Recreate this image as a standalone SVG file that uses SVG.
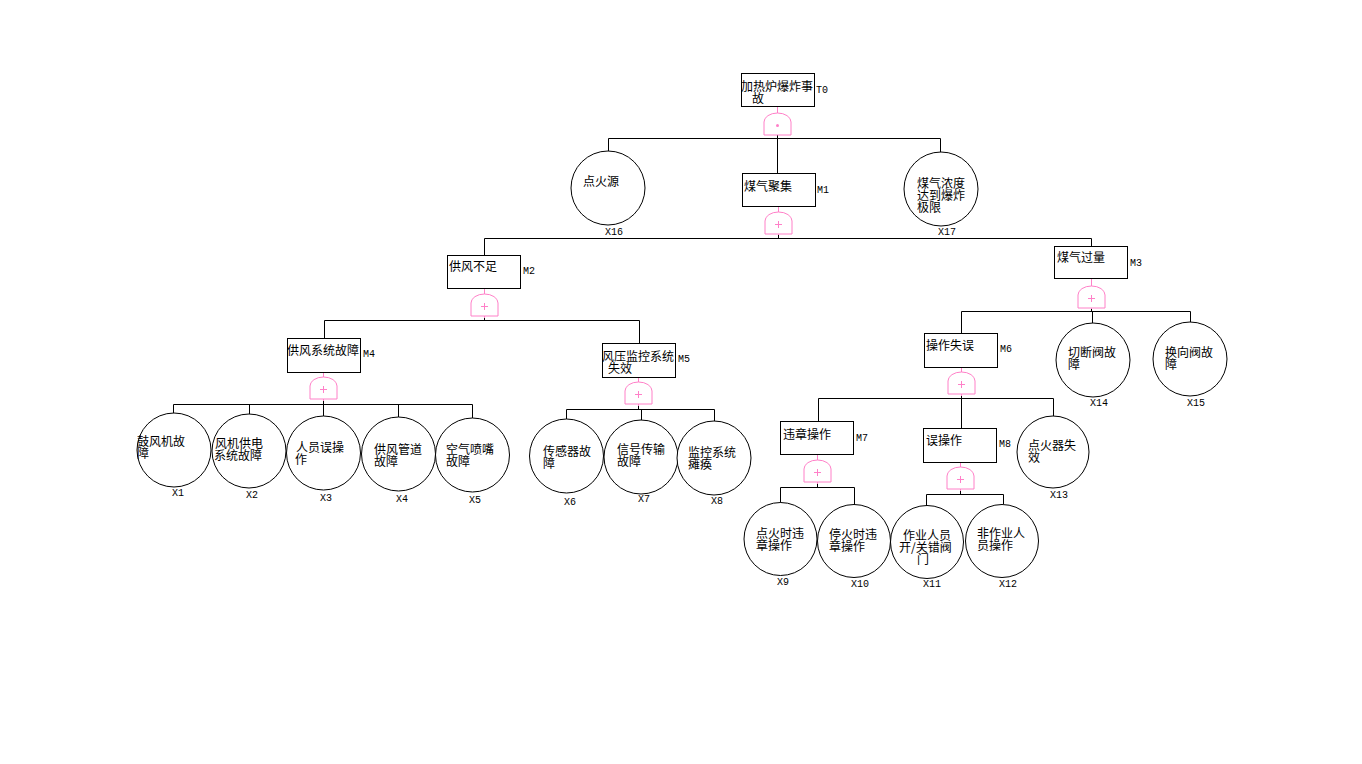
<svg xmlns="http://www.w3.org/2000/svg" width="1362" height="764" viewBox="0 0 1362 764">
<style>
.bg{fill:#fff}
.box{fill:#fff;stroke:#000;stroke-width:1}
.ev{fill:#fff;stroke:#000;stroke-width:1}
.gate{fill:#fff;stroke:#ff80c8;stroke-width:1}
.gs{stroke:#ff80c8;stroke-width:1;fill:none}
.ln{stroke:#000;stroke-width:1;fill:none}
.t{font-family:"Noto Sans CJK SC","Noto Sans CJK JP",sans-serif;font-size:12px;fill:#000}
.id{font-family:"Liberation Mono","DejaVu Sans Mono",monospace;font-size:10px;fill:#000}
</style>
<defs>
<g id="orgate">
<path class="gate" d="M-13.5,22 V9 A13.5,9 0 0 1 13.5,9 V22 Z"/>
<path class="gs" d="M-3.5,12.5 H3.5 M0,9 V16"/>
</g>
<g id="andgate">
<path class="gate" d="M-13.5,22 V9 A13.5,9 0 0 1 13.5,9 V22 Z"/>
<circle cx="0" cy="12.5" r="1.5" fill="#ff80c8"/>
</g>
</defs>
<rect class="bg" x="0" y="0" width="1362" height="764"/>

<g id="connectors">
<path class="ln" d="M608.5,138.5 H940.5 M608.5,138.5 V151 M940.5,138.5 V152 M777.5,135 V173"/>
<path class="ln" d="M484.5,238.5 H1091.5 M484.5,238.5 V255 M1091.5,238.5 V246 M778.5,235 V238"/>
<path class="ln" d="M324.5,320.5 H639.5 M324.5,320.5 V338 M639.5,320.5 V343 M484.5,318 V320"/>
<path class="ln" d="M173.5,404.5 H472.5 M173.5,404.5 V413 M249.5,404.5 V414 M323.5,404.5 V416 M398.5,404.5 V417 M472.5,404.5 V418 M323.5,401 V404"/>
<path class="ln" d="M566.5,409.5 H714.5 M566.5,409.5 V420 M641.5,409.5 V420 M714.5,409.5 V421 M638.5,406 V409"/>
<path class="ln" d="M961.5,311.5 H1190.5 M961.5,311.5 V333 M1092.5,311.5 V323 M1190.5,311.5 V322 M1091.5,309 V311"/>
<path class="ln" d="M818.5,398.5 H1053.5 M818.5,398.5 V421 M961.5,398.5 V428 M1053.5,398.5 V416 M961.5,396 V398"/>
<path class="ln" d="M780.5,487.5 H854.5 M780.5,487.5 V503 M854.5,487.5 V505 M817.5,484 V487"/>
<path class="ln" d="M926.5,494.5 H1003.5 M926.5,494.5 V506 M1003.5,494.5 V504 M960.5,491 V494"/>
<path class="gs" d="M777.5,107 V113 M777.5,133 V135 M778.5,207 V212 M778.5,233 V235 M484.5,289 V294 M484.5,316 V318 M323.5,373 V377 M323.5,399 V401 M638.5,378 V382 M638.5,404 V406 M1091.5,279 V286 M1091.5,307 V309 M961.5,368 V372 M961.5,394 V396 M817.5,455 V460 M817.5,482 V484 M960.5,463 V467 M960.5,489 V491"/>
</g>

<g id="T0">
<rect class="box" x="741.5" y="73.5" width="73" height="33"/>
<text class="t"><tspan x="741" y="91">加热炉爆炸事</tspan><tspan x="752" y="103">故</tspan></text>
<text class="id" x="816" y="93">T0</text>
<use href="#andgate" x="777.5" y="113"/>
</g>

<g id="M1">
<rect class="box" x="742.5" y="173.5" width="73" height="33"/>
<text class="t" x="744" y="191">煤气聚集</text>
<text class="id" x="817" y="193">M1</text>
<use href="#orgate" x="778.5" y="212"/>
</g>

<g id="X16">
<circle class="ev" cx="608" cy="188" r="37"/>
<text class="t" x="583" y="186">点火源</text>
<text class="id" x="605" y="235">X16</text>
</g>

<g id="X17">
<circle class="ev" cx="941" cy="189" r="37"/>
<text class="t"><tspan x="917" y="188">煤气浓度</tspan><tspan x="917" y="200">达到爆炸</tspan><tspan x="917" y="212">极限</tspan></text>
<text class="id" x="938" y="235">X17</text>
</g>

<g id="M2">
<rect class="box" x="447.5" y="255.5" width="73" height="33"/>
<text class="t" x="449" y="271">供风不足</text>
<text class="id" x="523" y="274">M2</text>
<use href="#orgate" x="484.5" y="294"/>
</g>

<g id="M3">
<rect class="box" x="1054.5" y="246.5" width="73" height="32"/>
<text class="t" x="1057" y="262">煤气过量</text>
<text class="id" x="1130" y="266">M3</text>
<use href="#orgate" x="1091.5" y="286"/>
</g>

<g id="M4">
<rect class="box" x="287.5" y="338.5" width="73" height="34"/>
<text class="t" x="287" y="355">供风系统故障</text>
<text class="id" x="363" y="357">M4</text>
<use href="#orgate" x="323.5" y="377"/>
</g>

<g id="M5">
<rect class="box" x="602.5" y="343.5" width="73" height="34"/>
<text class="t"><tspan x="602" y="361">风压监控系统</tspan><tspan x="608" y="373">失效</tspan></text>
<text class="id" x="678" y="362">M5</text>
<use href="#orgate" x="638.5" y="382"/>
</g>

<g id="M6">
<rect class="box" x="924.5" y="333.5" width="73" height="34"/>
<text class="t" x="926" y="350">操作失误</text>
<text class="id" x="1000" y="352">M6</text>
<use href="#orgate" x="961.5" y="372"/>
</g>

<g id="M7">
<rect class="box" x="780.5" y="421.5" width="73" height="33"/>
<text class="t" x="783" y="439">违章操作</text>
<text class="id" x="856" y="441">M7</text>
<use href="#orgate" x="817.5" y="460"/>
</g>

<g id="M8">
<rect class="box" x="923.5" y="428.5" width="73" height="34"/>
<text class="t" x="926" y="445">误操作</text>
<text class="id" x="999" y="447">M8</text>
<use href="#orgate" x="960.5" y="467"/>
</g>

<g id="X1">
<circle class="ev" cx="174" cy="450" r="37"/>
<text class="t"><tspan x="137" y="446">鼓风机故</tspan><tspan x="137" y="458">障</tspan></text>
<text class="id" x="172" y="496">X1</text>
</g>
<g id="X2">
<circle class="ev" cx="249" cy="451" r="37"/>
<text class="t"><tspan x="215" y="448">风机供电</tspan><tspan x="214" y="460">系统故障</tspan></text>
<text class="id" x="246" y="498">X2</text>
</g>
<g id="X3">
<circle class="ev" cx="323.5" cy="453" r="37"/>
<text class="t"><tspan x="296" y="452">人员误操</tspan><tspan x="295" y="464">作</tspan></text>
<text class="id" x="320" y="501">X3</text>
</g>
<g id="X4">
<circle class="ev" cx="398.5" cy="454" r="37"/>
<text class="t"><tspan x="374" y="454">供风管道</tspan><tspan x="374" y="466">故障</tspan></text>
<text class="id" x="396" y="502">X4</text>
</g>
<g id="X5">
<circle class="ev" cx="472.5" cy="455" r="37"/>
<text class="t"><tspan x="446" y="454">空气喷嘴</tspan><tspan x="446" y="466">故障</tspan></text>
<text class="id" x="469" y="503">X5</text>
</g>

<g id="X6">
<circle class="ev" cx="566.5" cy="456" r="37"/>
<text class="t"><tspan x="543" y="456">传感器故</tspan><tspan x="543" y="468">障</tspan></text>
<text class="id" x="564" y="505">X6</text>
</g>
<g id="X7">
<circle class="ev" cx="641" cy="457" r="37"/>
<text class="t"><tspan x="617" y="454">信号传输</tspan><tspan x="617" y="466">故障</tspan></text>
<text class="id" x="638" y="502">X7</text>
</g>
<g id="X8">
<circle class="ev" cx="714" cy="458" r="37"/>
<text class="t"><tspan x="688" y="457">监控系统</tspan><tspan x="688" y="469">瘫痪</tspan></text>
<text class="id" x="711" y="504">X8</text>
</g>

<g id="X14">
<circle class="ev" cx="1093" cy="360" r="37"/>
<text class="t"><tspan x="1068" y="357">切断阀故</tspan><tspan x="1068" y="369">障</tspan></text>
<text class="id" x="1090" y="406">X14</text>
</g>
<g id="X15">
<circle class="ev" cx="1190" cy="359" r="37"/>
<text class="t"><tspan x="1165" y="357">换向阀故</tspan><tspan x="1165" y="369">障</tspan></text>
<text class="id" x="1187" y="406">X15</text>
</g>
<g id="X13">
<circle class="ev" cx="1053" cy="452" r="36"/>
<text class="t"><tspan x="1028" y="450">点火器失</tspan><tspan x="1028" y="462">效</tspan></text>
<text class="id" x="1050" y="498">X13</text>
</g>

<g id="X9">
<circle class="ev" cx="780.5" cy="539" r="36.5"/>
<text class="t"><tspan x="756" y="538">点火时违</tspan><tspan x="756" y="550">章操作</tspan></text>
<text class="id" x="777" y="585">X9</text>
</g>
<g id="X10">
<circle class="ev" cx="854" cy="541" r="36.5"/>
<text class="t"><tspan x="829" y="539">停火时违</tspan><tspan x="829" y="551">章操作</tspan></text>
<text class="id" x="851" y="587">X10</text>
</g>
<g id="X11">
<circle class="ev" cx="927" cy="542" r="36.5"/>
<text class="t"><tspan x="903" y="540">作业人员</tspan><tspan x="899" y="552">开/关错阀</tspan><tspan x="917" y="564">门</tspan></text>
<text class="id" x="923" y="587">X11</text>
</g>
<g id="X12">
<circle class="ev" cx="1002" cy="541" r="36.5"/>
<text class="t"><tspan x="977" y="538">非作业人</tspan><tspan x="977" y="550">员操作</tspan></text>
<text class="id" x="999" y="587">X12</text>
</g>
</svg>
